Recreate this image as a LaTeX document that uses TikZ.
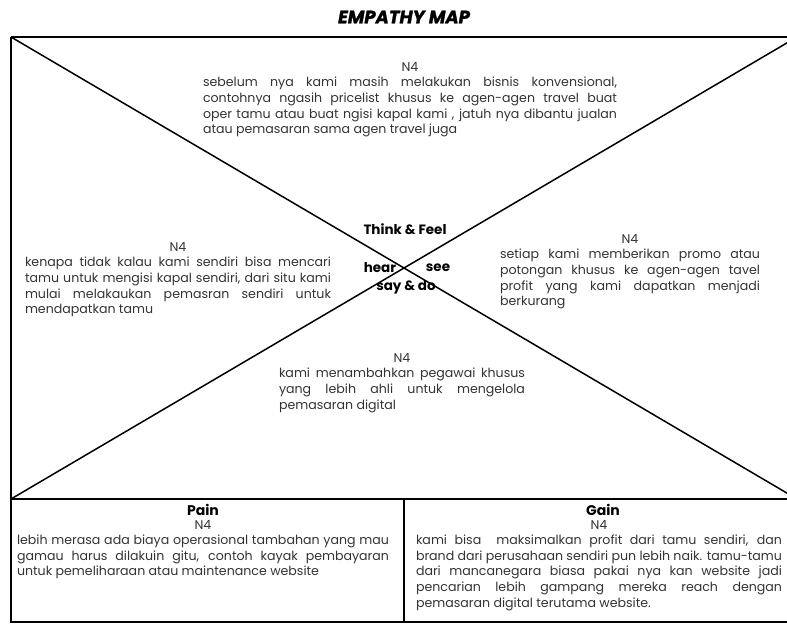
\documentclass[tikz,border=0pt]{standalone}
\usepackage{fontspec}
\setmainfont{Poppins}
\usetikzlibrary{positioning}
\definecolor{txtgray}{HTML}{333333}
\tikzset{
  frame/.style={draw=black,line width=2pt},
  cross/.style={draw=black,line width=1.5pt},
  quad/.style={text=black,font=\fontsize{13.5}{15}\selectfont\bfseries,inner sep=1pt},
  note/.style={text=txtgray,font=\fontsize{12.6}{15.6}\selectfont,align=justify,inner sep=0pt,anchor=north},
  boxhead/.style={text=black,font=\fontsize{14}{16}\selectfont\bfseries,inner sep=0pt},
}
\newcommand{\nfour}{{\centering N4\par}}

\begin{document}
\begin{tikzpicture}[x=1pt,y=-1pt]
\useasboundingbox (0,0) rectangle (787,624);
\clip (0,0) rectangle (787,624);
% title
\node[font=\fontsize{18}{20}\selectfont\bfseries\itshape\addfontfeatures{FakeBold=1.5}] (title) at (404,17) {EMPATHY MAP};
% outer frame and cross
\coordinate (tl) at (11,37);
\coordinate (tr) at (797,37);
\coordinate (bl) at (11,499);
\coordinate (br) at (797,499);
\coordinate (bot) at (11,622);
\coordinate (botr) at (797,622);
\draw[frame] (tl) -- (tr);
\draw[frame] (tl) -- (bot) -- (botr);
\draw[frame] (bl) -- (br);
\draw[frame] (tr) -- (botr);
\coordinate (midtop) at (404,499);
\coordinate (midbot) at (404,622);
\draw[frame] (midtop) -- (midbot);
\draw[cross] (tl) -- (br);
\draw[cross] (bl) -- (tr);
% quadrant labels
\node[quad] (think) at (405,229) {Think \& Feel};
\node[quad] (hear) at (380,268) {hear};
\node[quad] (see) at (438,268) {see};
\node[quad] (say) at (406,287) {say \& do};
% think & feel
\node[note,text width=414pt] (thinktxt) at (410,62) {\nfour
sebelum nya kami masih melakukan bisnis konvensional,\linebreak
contohnya ngasih pricelist khusus ke agen-agen travel buat\linebreak
oper tamu atau buat ngisi kapal kami , jatuh nya dibantu jualan\linebreak
atau pemasaran sama agen travel juga};
% hear
\node[note,text width=306pt] (heartxt) at (178,242) {\nfour
kenapa tidak kalau kami sendiri bisa mencari\linebreak
tamu untuk mengisi kapal sendiri, dari situ kami\linebreak
mulai melakaukan pemasran sendiri untuk\linebreak
mendapatkan tamu};
% see
\node[note,text width=260pt] (seetxt) at (630,234) {\nfour
setiap kami memberikan promo atau\linebreak
potongan khusus ke agen-agen tavel\linebreak
profit yang kami dapatkan menjadi\linebreak
berkurang};
% say & do
\node[note,text width=246pt] (saytxt) at (402,353) {\nfour
kami menambahkan pegawai khusus\linebreak
yang lebih ahli untuk mengelola\linebreak
pemasaran digital};
% pain and gain
\node[boxhead] (pain) at (203,510) {Pain};
\node[note,text width=372pt,below=4pt of pain] (paintxt) {\nfour
lebih merasa ada biaya operasional tambahan yang mau\linebreak
gamau harus dilakuin gitu, contoh kayak pembayaran\linebreak
untuk pemeliharaan atau maintenance website};
\node[boxhead] (gain) at (603,510) {Gain};
\node[note,text width=366pt,below=4pt of gain,xshift=-4pt] (gaintxt) {\nfour
kami bisa \ maksimalkan profit dari tamu sendiri, dan\linebreak
brand dari perusahaan sendiri pun lebih naik. tamu-tamu\linebreak
dari mancanegara biasa pakai nya kan website jadi\linebreak
pencarian lebih gampang mereka reach dengan\linebreak
pemasaran digital terutama website.};
\end{tikzpicture}
\end{document}
